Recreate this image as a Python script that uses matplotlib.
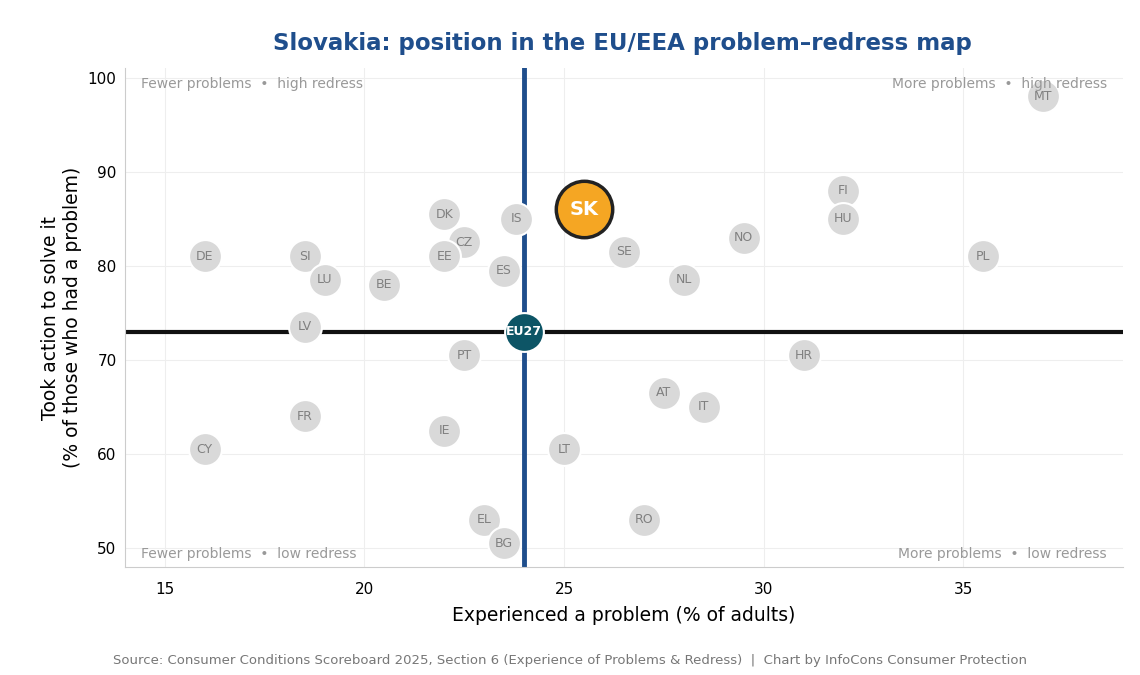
import matplotlib
matplotlib.use("Agg")
import matplotlib.pyplot as plt

codes = ["DE","SI","LU","BE","DK","CZ","EE","ES","IS","SE","NL","NO","FI","HU","PL","MT",
         "LV","PT","HR","AT","IT","FR","IE","CY","LT","EL","RO","BG"]
xs = [16,18.5,19,20.5,22,22.5,22,23.5,23.8,26.5,28,29.5,32,32,35.5,37,
      18.5,22.5,31,27.5,28.5,18.5,22,16,25,23,27,23.5]
ys = [81,81,78.5,78,85.5,82.5,81,79.5,85,81.5,78.5,83,88,85,81,98,
      73.5,70.5,70.5,66.5,65,64,62.5,60.5,60.5,53,53,50.5]
sk = (25.5, 86)
eu = (24, 73)

fig = plt.figure(figsize=(11.4, 6.75), dpi=100)
ax = fig.add_axes([0.1096, 0.16, 0.8754, 0.739])
ax.set_xlim(14, 39)
ax.set_ylim(48, 101)
ax.grid(True, color="#eeeeee", lw=0.8)
ax.set_axisbelow(True)
for s in ["top", "right"]:
    ax.spines[s].set_visible(False)
for s in ["left", "bottom"]:
    ax.spines[s].set_color("#cccccc")
ax.tick_params(labelsize=11, length=0, labelcolor="black")
ax.tick_params(axis="x", pad=11)
ax.tick_params(axis="y", pad=6)
ax.set_xticks([15, 20, 25, 30, 35])
ax.set_yticks([50, 60, 70, 80, 90, 100])

ax.axvline(eu[0], color="#1f4e8c", lw=3.5, zorder=2)
ax.axhline(eu[1], color="#111111", lw=3, zorder=2)

ax.scatter(xs, ys, s=560, color="#d9d9d9", edgecolor="white", lw=1.5, zorder=3)
for c, x, y in zip(codes, xs, ys):
    ax.text(x, y, c, ha="center", va="center", fontsize=9, color="#808080", zorder=4)
ax.scatter([sk[0]], [sk[1]], s=1650, color="#f5a623", edgecolor="#222222", lw=2.5, zorder=5)
ax.text(sk[0], sk[1], "SK", ha="center", va="center", fontsize=14, fontweight="bold", color="white", zorder=6)
ax.scatter([eu[0]], [eu[1]], s=780, color="#0d5566", edgecolor="white", lw=1.5, zorder=5)
ax.text(eu[0], eu[1], "EU27", ha="center", va="center", fontsize=9, fontweight="bold", color="white", zorder=6)

qc = "#999999"
ax.text(14.4, 99.3, "Fewer problems  •  high redress", fontsize=10, color=qc, va="center")
ax.text(38.6, 99.3, "More problems  •  high redress", fontsize=10, color=qc, va="center", ha="right")
ax.text(14.4, 49.4, "Fewer problems  •  low redress", fontsize=10, color=qc, va="center")
ax.text(38.6, 49.4, "More problems  •  low redress", fontsize=10, color=qc, va="center", ha="right")

ax.set_xlabel("Experienced a problem (% of adults)", fontsize=13.5, labelpad=6)
ax.set_ylabel("Took action to solve it\n(% of those who had a problem)", fontsize=13.5)
fig.text(0.546, 0.936, "Slovakia: position in the EU/EEA problem–redress map", ha="center", va="center",
         fontsize=16.5, fontweight="bold", color="#1f4e8c")
fig.text(0.5, 0.022, "Source: Consumer Conditions Scoreboard 2025, Section 6 (Experience of Problems & Redress)  |  Chart by InfoCons Consumer Protection",
         ha="center", va="center", fontsize=9.5, color="#777777")
fig.savefig("out.png", dpi=100)
